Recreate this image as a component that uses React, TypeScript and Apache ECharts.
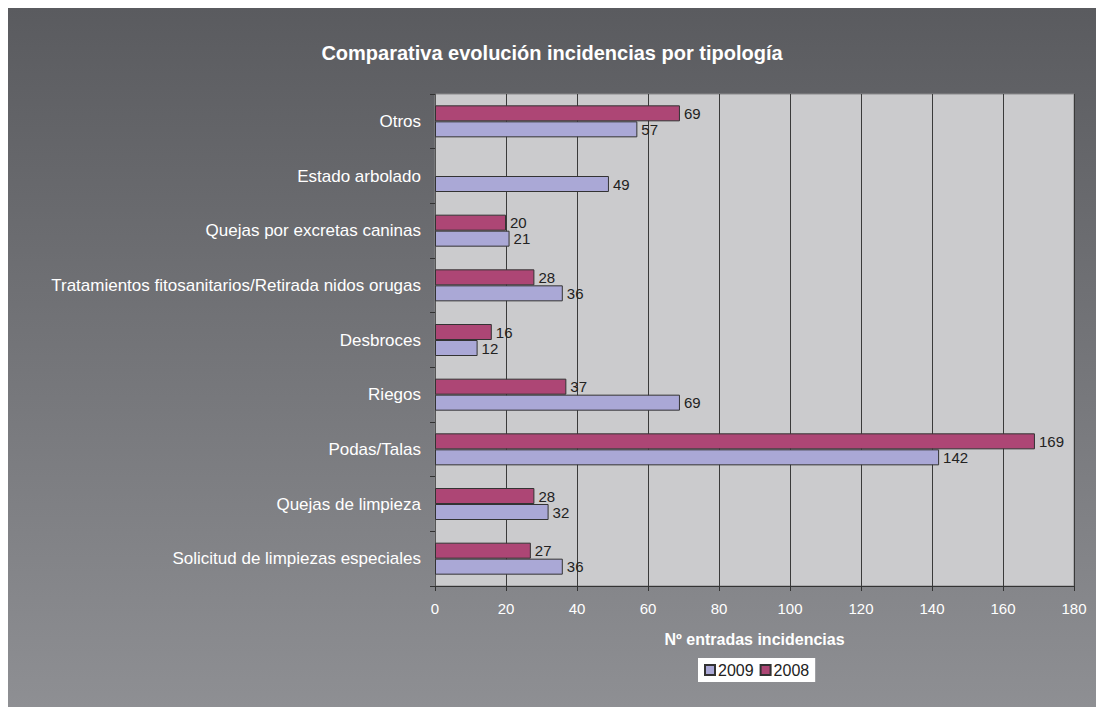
import React, { useEffect, useRef } from "react";
import * as echarts from "echarts";

const categories = [
  "Solicitud de limpiezas especiales",
  "Quejas de limpieza",
  "Podas/Talas",
  "Riegos",
  "Desbroces",
  "Tratamientos fitosanitarios/Retirada nidos orugas",
  "Quejas por excretas caninas",
  "Estado arbolado",
  "Otros",
];
const values2009 = [36, 32, 142, 69, 12, 36, 21, 49, 57];
const values2008: (number | null)[] = [27, 28, 169, 37, 16, 28, 20, null, 69];
const xTicks = { min: 0, max: 180, interval: 20 };

const FONT = "Liberation Sans, Arial, sans-serif";

export default function App() {
  const ref = useRef<HTMLDivElement>(null);
  useEffect(() => {
    if (!ref.current) return;
    const chart = echarts.init(ref.current, undefined, { renderer: "svg" });
    const labelStyle = {
      show: true,
      position: "right" as const,
      distance: 4,
      color: "#222",
      fontSize: 15,
      fontFamily: FONT,
    };
    chart.setOption({
      animation: false,
      backgroundColor: {
        type: "linear",
        x: 0,
        y: 0,
        x2: 0,
        y2: 1,
        colorStops: [
          { offset: 0, color: "#5a5b5f" },
          { offset: 1, color: "#8e8f93" },
        ],
      },
      title: {
        text: "Comparativa evolución incidencias por tipología",
        left: "center",
        top: 30,
        textStyle: {
          color: "#ffffff",
          fontSize: 20,
          fontWeight: "bold",
          fontFamily: FONT,
        },
      },
      legend: {
        data: ["2009", "2008"],
        left: 690,
        top: 650,
        backgroundColor: "#ffffff",
        padding: [4, 6],
        itemWidth: 10,
        itemHeight: 10,
        itemGap: 6,
        icon: "rect",
        textStyle: {
          color: "#222",
          fontSize: 16,
          padding: [0, 0, 0, -2],
          fontFamily: FONT,
        },
      },
      grid: {
        left: 427,
        right: 22,
        top: 86,
        bottom: 121,
        show: true,
        backgroundColor: "#cbcbcd",
        borderColor: "#8a8a8c",
        borderWidth: 1,
      },
      xAxis: {
        type: "value",
        min: xTicks.min,
        max: xTicks.max,
        interval: xTicks.interval,
        name: "Nº entradas incidencias",
        nameLocation: "middle",
        nameGap: 45,
        nameTextStyle: {
          color: "#ffffff",
          fontSize: 16,
          fontWeight: "bold",
          fontFamily: FONT,
        },
        axisLine: { show: true, lineStyle: { color: "#333" } },
        axisTick: { show: true, length: 5, lineStyle: { color: "#333" } },
        axisLabel: {
          color: "#ffffff",
          fontSize: 15,
          margin: 15,
          fontFamily: FONT,
        },
        splitLine: { show: true, lineStyle: { color: "#3a3a3a", width: 1 } },
      },
      yAxis: {
        type: "category",
        data: categories,
        axisLine: { show: true, lineStyle: { color: "#555" } },
        axisTick: { show: true, length: 5, lineStyle: { color: "#333" } },
        axisLabel: {
          color: "#ffffff",
          fontSize: 17,
          margin: 14,
          fontFamily: FONT,
        },
        splitLine: { show: false },
      },
      series: [
        {
          name: "2008",
          type: "bar",
          data: values2008,
          barWidth: 16,
          barGap: "0%",
          itemStyle: { color: "#ad4675", borderColor: "#333", borderWidth: 1 },
          label: labelStyle,
        },
        {
          name: "2009",
          type: "bar",
          data: values2009,
          barWidth: 16,
          barGap: "0%",
          itemStyle: { color: "#aaa8d6", borderColor: "#333", borderWidth: 1 },
          label: labelStyle,
        },
      ],
    });
    return () => chart.dispose();
  }, []);
  return (
    <div
      ref={ref}
      style={{ position: "fixed", left: 8, top: 8, width: 1088, height: 699 }}
    />
  );
}
